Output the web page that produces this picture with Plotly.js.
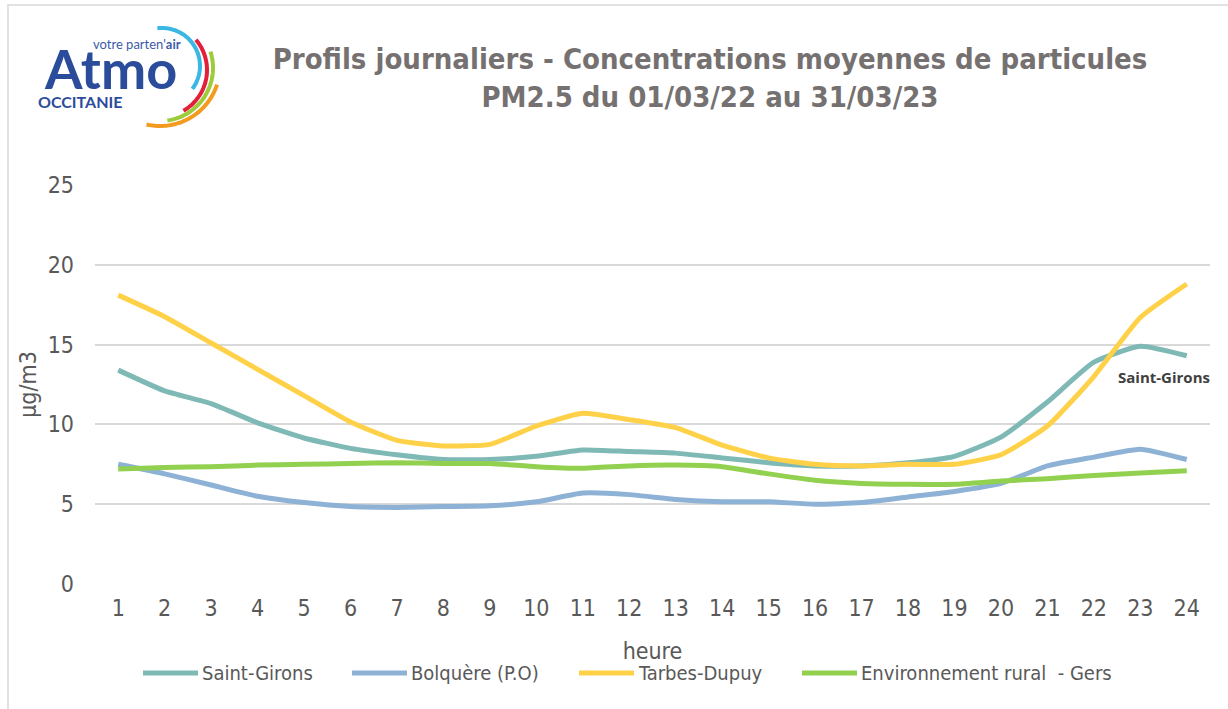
<!DOCTYPE html>
<html>
<head>
<meta charset="utf-8">
<script src="https://cdn.plot.ly/plotly-3.0.1.min.js"></script>
<style>
  html, body { margin: 0; padding: 0; background: #fff; }
  #chart { width: 1228px; height: 709px; }
</style>
</head>
<body>
<div id="chart"></div>
<script>
var hours = [1, 2, 3, 4, 5, 6, 7, 8, 9, 10, 11, 12, 13, 14, 15, 16, 17, 18, 19, 20, 21, 22, 23, 24];
var saintGirons = [13.4, 12.1, 11.3, 10.1, 9.15, 8.5, 8.1, 7.8, 7.8, 8.0, 8.4, 8.3, 8.2, 7.9, 7.6, 7.4, 7.4, 7.6, 8.0, 9.2, 11.4, 13.9, 14.9, 14.3];
var bolquere = [7.5, 6.9, 6.2, 5.5, 5.1, 4.85, 4.8, 4.85, 4.9, 5.15, 5.7, 5.6, 5.3, 5.15, 5.15, 5.0, 5.1, 5.45, 5.8, 6.3, 7.4, 7.95, 8.45, 7.8];
var tarbes = [18.1, 16.75, 15.1, 13.45, 11.8, 10.15, 9.0, 8.65, 8.75, 9.9, 10.7, 10.3, 9.8, 8.7, 7.9, 7.5, 7.4, 7.5, 7.5, 8.1, 9.9, 13.0, 16.7, 18.8];
var gers = [7.2, 7.3, 7.35, 7.45, 7.5, 7.55, 7.6, 7.55, 7.55, 7.35, 7.25, 7.4, 7.45, 7.35, 6.9, 6.5, 6.3, 6.25, 6.25, 6.45, 6.6, 6.8, 6.95, 7.1];

var names = ['Saint-Girons', 'Bolquère (P.O)', 'Tarbes-Dupuy', 'Environnement rural  - Gers'];
var colors = ['#7fb9b5', '#8db2d5', '#ffd149', '#92d050'];
var series = [saintGirons, bolquere, tarbes, gers];

var narrow = '"Liberation Sans Narrow", "Arial Narrow", "DejaVu Sans Condensed", sans-serif';
var grey = '#595959';

// margins, to turn pixel spots into paper coords
var W = 1228, H = 709, ML = 95, MR = 18, MT = 185, MB = 125;
function px(x) { return (x - ML) / (W - ML - MR); }
function py(y) { return (H - MB - y) / (H - MT - MB); }

var data = series.map(function (s, i) {
  return {
    x: hours,
    y: s,
    name: names[i],
    type: 'scatter',
    mode: 'lines',
    line: { color: colors[i], width: 5, shape: 'spline', smoothing: 0.5 },
    hoverinfo: 'x+y+name'
  };
});

// logo arcs
function arc(cx, cy, r, a0, a1) {
  var d = '';
  var n = 40;
  for (var k = 0; k <= n; k++) {
    var a = (a0 + (a1 - a0) * k / n) * Math.PI / 180;
    var x = cx + r * Math.cos(a), y = cy - r * Math.sin(a);
    d += (k === 0 ? 'M' : 'L') + px(x).toFixed(5) + ',' + py(y).toFixed(5);
  }
  return d;
}
var arcs = [
  [162, 66, 38, 97, -37, '#3ab7e3'],
  [160, 70, 47, 40, -60, '#e2203a'],
  [160, 68, 53, 18, -82, '#9ccc3c'],
  [160, 66, 60, -18, -103, '#f39a1f']
];
var shapes = arcs.map(function (a) {
  return {
    type: 'path', xref: 'paper', yref: 'paper', layer: 'above',
    path: arc(a[0], a[1], a[2], a[3], a[4]),
    line: { color: a[5], width: 4 }
  };
});
shapes.push({
  type: 'rect', xref: 'paper', yref: 'paper',
  x0: px(8), x1: px(1260), y0: py(5), y1: py(740),
  line: { color: '#d9d9d9', width: 1.5 }
});

var annotations = [
  {
    text: 'Saint-Girons', xref: 'paper', yref: 'paper',
    x: px(1116), y: py(377), xanchor: 'left', yanchor: 'middle',
    showarrow: false,
    font: { family: '"Open Sans", sans-serif', size: 15, weight: 700, color: '#404040' }
  },
  {
    text: 'Atmo', xref: 'paper', yref: 'paper',
    x: px(42), y: py(68), xanchor: 'left', yanchor: 'middle',
    showarrow: false,
    font: { family: 'Lato, "Open Sans", sans-serif', size: 54, weight: 700, color: '#2b4c9b' }
  },
  {
    text: "votre parten'<b>air</b>", xref: 'paper', yref: 'paper',
    x: px(91), y: py(44), xanchor: 'left', yanchor: 'middle',
    showarrow: false,
    font: { family: 'Lato, "Open Sans", sans-serif', size: 13, color: '#3d5aa9' }
  },
  {
    text: 'OCCITANIE', xref: 'paper', yref: 'paper',
    x: px(36), y: py(102), xanchor: 'left', yanchor: 'middle',
    showarrow: false,
    font: { family: 'Lato, "Open Sans", sans-serif', size: 16, weight: 700, color: '#2b4c9b' }
  }
];

// legend drawn by hand below the axis title
var legendX = [143, 352, 579, 802];
names.forEach(function (n, i) {
  shapes.push({
    type: 'line', xref: 'paper', yref: 'paper',
    x0: px(legendX[i]), x1: px(legendX[i] + 55), y0: py(673), y1: py(673),
    line: { color: colors[i], width: 5 }
  });
  annotations.push({
    text: n, xref: 'paper', yref: 'paper',
    x: px(legendX[i] + 57), y: py(673), xanchor: 'left', yanchor: 'middle',
    showarrow: false,
    font: { family: narrow, size: 20, color: grey }
  });
});

var layout = {
  width: W,
  height: H,
  margin: { l: ML, r: MR, t: MT, b: MB },
  paper_bgcolor: '#fff',
  plot_bgcolor: '#fff',
  font: { family: narrow, color: grey },
  showlegend: false,
  title: {
    text: 'Profils journaliers - Concentrations moyennes de particules<br>PM2.5 du 01/03/22 au 31/03/23',
    font: { family: narrow, size: 29, weight: 700, color: '#767171' },
    xref: 'container', yref: 'container',
    x: 710 / W, y: 1 - 69 / H, xanchor: 'center', yanchor: 'middle'
  },
  xaxis: {
    type: 'linear',
    range: [0.5, 24.5],
    tickmode: 'array',
    tickvals: hours,
    ticktext: hours.map(String),
    showgrid: false,
    zeroline: false,
    showline: false,
    ticks: '',
    ticklabelstandoff: 8,
    tickfont: { family: narrow, size: 23, color: grey },
    title: { text: 'heure', font: { family: narrow, size: 23, color: grey }, standoff: 22 }
  },
  yaxis: {
    range: [0, 25],
    dtick: 5,
    showgrid: true,
    gridcolor: '#d9d9d9',
    gridwidth: 2,
    zeroline: false,
    showline: false,
    ticks: '',
    ticklabelstandoff: 20,
    tickfont: { family: narrow, size: 23, color: grey },
    title: { text: 'µg/m3', font: { family: narrow, size: 23, color: grey }, standoff: 4 }
  },
  shapes: shapes,
  annotations: annotations
};

Plotly.newPlot('chart', data, layout, { displayModeBar: false, responsive: false });
</script>
</body>
</html>
